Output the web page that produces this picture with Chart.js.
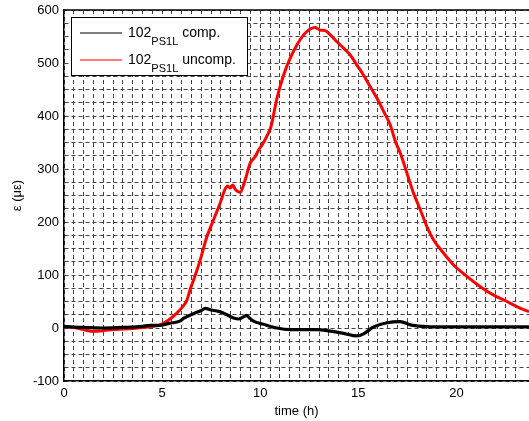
<!DOCTYPE html>
<html>
<head>
<meta charset="utf-8">
<script src="https://cdn.jsdelivr.net/npm/chart.js@4/dist/chart.umd.min.js"></script>
<style>
  html, body { margin: 0; padding: 0; background: #fff; }
  #wrap { width: 529px; height: 421px; }
</style>
</head>
<body>
<div id="wrap"><canvas id="c" width="529" height="421"></canvas></div>
<script>
// Uncompensated strain (red) - time (h), value (µε)
const redTimes = [0, 0.5, 1.0, 1.4, 2.0, 2.5, 3.0, 3.5, 4.0, 4.5, 4.9, 5.3, 5.75, 6.0, 6.26, 6.45, 6.6, 6.94, 7.28, 7.62, 7.96, 8.21, 8.35, 8.47, 8.6, 8.72, 8.98, 9.23, 9.49, 9.74, 9.92, 10.09, 10.34, 10.55, 10.85, 11.19, 11.53, 11.87, 12.21, 12.55, 12.81, 13.06, 13.32, 13.57, 13.91, 14.25, 14.59, 14.93, 15.27, 15.61, 15.96, 16.30, 16.63, 16.89, 17.14, 17.48, 17.82, 18.16, 18.5, 18.84, 19.35, 19.86, 20.55, 21.22, 21.9, 22.58, 23.27, 23.7];
const redValues = [3, 1, -3, -6, -5, -3, -2, -1, 1, 3, 6, 14, 28, 38, 52, 75, 90, 128, 172, 204, 236, 262, 268, 264, 270, 262, 256, 279, 311, 323, 336, 345, 362, 380, 433, 477, 509, 534, 553, 564, 567, 562, 561, 553, 540, 528, 515, 496, 477, 455, 433, 408, 383, 352, 330, 292, 254, 223, 191, 166, 141, 119, 97, 78, 62, 50, 37, 31];

// Compensated strain (black)
const blackTimes = [0, 1, 2, 3, 4, 4.4, 4.9, 5.41, 5.9, 6.09, 6.6, 7.0, 7.19, 7.5, 7.79, 8.0, 8.30, 8.64, 8.9, 9.15, 9.3, 9.45, 9.66, 10.17, 10.85, 11.53, 12.21, 12.89, 13.57, 14.25, 14.93, 15.27, 15.78, 16.46, 17.14, 17.65, 18.33, 19, 20, 21, 22, 23, 23.7];
const blackValues = [3, 1, 0, 1, 3, 5, 5, 9, 13, 18, 27, 33, 37, 34, 32, 30, 25, 19, 17, 21, 24, 19, 13, 7, 0, -3, -3, -3, -6, -10, -15, -11, 2, 10, 12, 6, 3, 2, 2, 2, 2, 2, 2];

const xTickLabels = [0, 5, 10, 15, 20];
const yTickLabels = [-100, 0, 100, 200, 300, 400, 500, 600];

const legendEntries = [
  { base: '102', sub: 'PS1L', rest: ' comp.', color: '#000000' },
  { base: '102', sub: 'PS1L', rest: ' uncomp.', color: '#ff0000' }
];

const FONT = '"Liberation Sans", Arial, sans-serif';

function pts(ts, vs) { return ts.map((t, i) => ({ x: t, y: vs[i] })); }

const frameLegend = {
  id: 'frameLegend',
  afterDraw(chart) {
    const ctx = chart.ctx;
    const a = chart.chartArea;
    ctx.save();
    ctx.strokeStyle = '#000';
    ctx.lineWidth = 1.5;
    ctx.beginPath();
    ctx.moveTo(a.left, a.top);
    ctx.lineTo(a.right, a.top);
    ctx.stroke();
    const bx = a.left + 7, by = a.top + 7, bw = 176, bh = 58;
    ctx.fillStyle = '#fff';
    ctx.fillRect(bx, by, bw, bh);
    ctx.strokeStyle = '#000';
    ctx.lineWidth = 1;
    ctx.strokeRect(bx + 0.5, by + 0.5, bw, bh);
    legendEntries.forEach((e, i) => {
      const cy = by + 16 + i * 27;
      ctx.strokeStyle = e.color;
      ctx.lineWidth = 1.2;
      ctx.beginPath();
      ctx.moveTo(bx + 9, cy);
      ctx.lineTo(bx + 51, cy);
      ctx.stroke();
      ctx.fillStyle = '#000';
      ctx.textBaseline = 'alphabetic';
      ctx.textAlign = 'left';
      ctx.font = '14px ' + FONT;
      let x = bx + 57;
      ctx.fillText(e.base, x, cy + 4);
      x += ctx.measureText(e.base).width;
      ctx.font = '11px ' + FONT;
      ctx.fillText(e.sub, x, cy + 12);
      x += ctx.measureText(e.sub).width;
      ctx.font = '14px ' + FONT;
      ctx.fillText(e.rest, x, cy + 4);
    });
    ctx.restore();
  }
};

new Chart(document.getElementById('c'), {
  type: 'line',
  data: {
    datasets: [
      {
        label: 'uncomp',
        data: pts(redTimes, redValues),
        borderColor: '#ff0000',
        borderWidth: 3,
        pointRadius: 0,
        cubicInterpolationMode: 'monotone',
        order: 2
      },
      {
        label: 'comp',
        data: pts(blackTimes, blackValues),
        borderColor: '#000000',
        borderWidth: 3.2,
        pointRadius: 0,
        cubicInterpolationMode: 'monotone',
        order: 1
      }
    ]
  },
  options: {
    responsive: false,
    animation: false,
    devicePixelRatio: 1,
    layout: { padding: { left: 0, top: 10, right: 0, bottom: 0 } },
    plugins: { legend: { display: false }, tooltip: { enabled: false } },
    scales: {
      x: {
        type: 'linear',
        min: 0,
        max: 23.7,
        afterFit(s) { s.height = 40; s.paddingLeft = 0; s.paddingRight = 0; },
        ticks: {
          stepSize: 0.5,
          autoSkip: false,
          maxRotation: 0,
          padding: 5,
          color: '#000',
          font: { family: FONT, size: 13 },
          callback(v) { return xTickLabels.includes(v) ? String(v) : ''; }
        },
        grid: { color: '#444', lineWidth: 1, drawTicks: false },
        border: { display: true, color: '#000', width: 1.5, dash: [4, 3] },
        title: {
          display: true,
          text: 'time (h)',
          color: '#000',
          font: { family: FONT, size: 13 },
          padding: { top: 0, bottom: 2 }
        }
      },
      y: {
        type: 'linear',
        min: -100,
        max: 600,
        afterFit(s) { s.width = 64; s.paddingTop = 0; s.paddingBottom = 0; },
        ticks: {
          stepSize: 25,
          autoSkip: false,
          padding: 5,
          color: '#000',
          font: { family: FONT, size: 13 },
          callback(v) { return yTickLabels.includes(v) ? String(v) : ''; }
        },
        grid: { color: '#444', lineWidth: 1, drawTicks: false },
        border: { display: true, color: '#000', width: 1.5, dash: [4, 3] },
        title: {
          display: true,
          text: 'ε (με)',
          color: '#000',
          font: { family: FONT, size: 13 },
          padding: { top: 10, bottom: 0 }
        }
      }
    }
  },
  plugins: [frameLegend]
});
</script>
</body>
</html>
